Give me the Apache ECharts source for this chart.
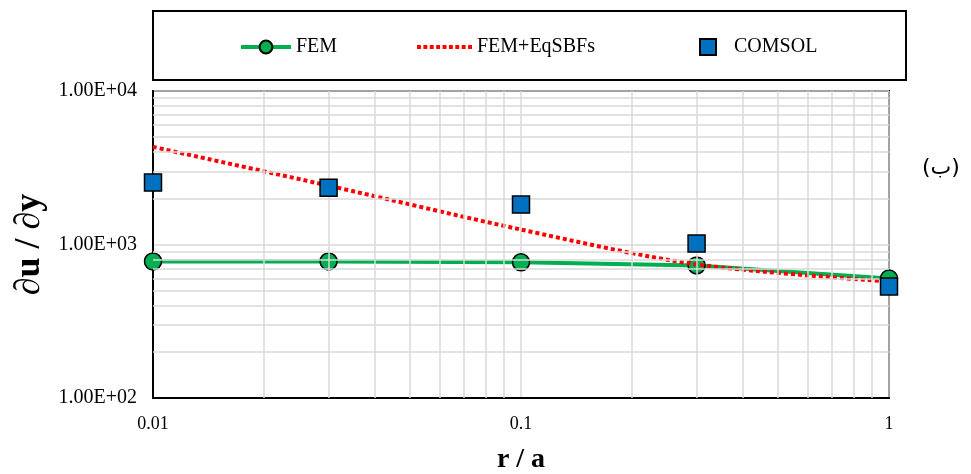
<!DOCTYPE html>
<html>
<head>
<meta charset="utf-8">
<script src="https://cdn.jsdelivr.net/npm/echarts@6/dist/echarts.min.js"></script>
<style>
  html, body { margin: 0; padding: 0; background: #fff; }
  #chart { width: 971px; height: 474px; }
</style>
</head>
<body>
<div id="chart"></div>
<script>
// r / a positions
const ratios = [0.01, 0.03, 0.1, 0.3, 1];
// du/dy values
const femValues = [776, 776, 765, 731, 601];
const eqsbfValues = [4325, 2417, 1251, 742, 575];
const comsolValues = [2530, 2344, 1819, 1015, 533];

// minor log gridlines
const xMinorGrid = [0.02, 0.03, 0.04, 0.05, 0.06, 0.07, 0.08, 0.09, 0.2, 0.3, 0.4, 0.5, 0.6, 0.7, 0.8, 0.9];
const yMinorGrid = [200, 300, 400, 500, 600, 700, 800, 900, 2000, 3000, 4000, 5000, 6000, 7000, 8000, 9000];

const serif = '"Liberation Serif", "Times New Roman", serif';
const green = '#00b050';
const blue = '#0070c0';
const red = '#ff0000';

// dotted legend sample: 9 small squares
const dottedIcon = 'path://M0,0h4v4h-4z M6.5,0h4v4h-4z M13,0h4v4h-4z M19.5,0h4v4h-4z M26,0h4v4h-4z ' +
  'M32.5,0h4v4h-4z M39,0h4v4h-4z M45.5,0h4v4h-4z M52,0h4v4h-4z';

function sciLabel(v) {
  const e = Math.round(Math.log10(v));
  const m = v / Math.pow(10, e);
  return m.toFixed(2) + 'E+' + String(e).padStart(2, '0');
}

function pairs(values) {
  return ratios.map((r, i) => [r, values[i]]);
}

const gridLine = { color: '#d9d9d9', width: 1.5, type: 'solid' };

const chart = echarts.init(document.getElementById('chart'), null, { renderer: 'canvas' });

const legendText = { fontFamily: serif, fontSize: 20, color: '#000' };

chart.setOption({
  animation: false,
  backgroundColor: '#fff',
  graphic: [
    {
      type: 'rect',
      shape: { x: 153, y: 11, width: 753, height: 69 },
      style: { fill: '#fff', stroke: '#000', lineWidth: 2 },
      z: 0
    },
    {
      type: 'text',
      left: 922,
      top: 157,
      style: { text: '(ب)', font: '22px "DejaVu Sans", sans-serif', fill: '#000' }
    }
  ],
  legend: [
    {
      data: ['FEM'],
      left: 234, top: 32,
      itemWidth: 50, itemHeight: 16,
      lineStyle: { width: 4, color: green },
      textStyle: Object.assign({ padding: [0, 0, 0, 0] }, legendText)
    },
    {
      data: [{ name: 'FEM+EqSBFs', icon: dottedIcon }],
      left: 412, top: 32,
      itemWidth: 55, itemHeight: 5,
      itemStyle: { color: red },
      textStyle: Object.assign({ padding: [0, 0, 0, 0] }, legendText)
    },
    {
      data: ['COMSOL'],
      left: 694, top: 32,
      itemWidth: 16, itemHeight: 16,
      textStyle: Object.assign({ padding: [0, 0, 0, 13] }, legendText)
    }
  ],
  grid: {
    left: 153, right: 82, top: 91, bottom: 76,
    outerBoundsMode: 'none',
    containLabel: false,
    show: true,
    borderColor: '#000',
    borderWidth: 2,
    backgroundColor: '#fff'
  },
  xAxis: {
    type: 'log',
    logBase: 10,
    min: 0.01,
    max: 1,
    name: 'r / a',
    nameLocation: 'middle',
    nameGap: 48,
    nameTextStyle: { fontFamily: serif, fontSize: 28, fontWeight: 'bold', color: '#000' },
    axisLine: { lineStyle: { color: '#000', width: 2 } },
    axisTick: { show: false },
    axisLabel: {
      fontFamily: serif, fontSize: 18, color: '#000', margin: 17,
      formatter: v => String(parseFloat(v.toPrecision(3)))
    },
    splitLine: { show: true, lineStyle: gridLine }
  },
  yAxis: {
    type: 'log',
    logBase: 10,
    min: 100,
    max: 10000,
    name: '∂u / ∂y',
    nameLocation: 'middle',
    nameRotate: 90,
    nameGap: 102,
    nameTextStyle: { fontFamily: serif, fontSize: 36, fontWeight: 'bold', color: '#000' },
    axisLine: { lineStyle: { color: '#000', width: 2 } },
    axisTick: { show: false },
    axisLabel: { fontFamily: serif, fontSize: 20, color: '#000', margin: 16, formatter: sciLabel },
    splitLine: { show: true, lineStyle: gridLine }
  },
  series: [
    {
      name: 'minor-grid',
      type: 'line',
      data: [],
      silent: true,
      z: 1,
      markLine: {
        silent: true,
        symbol: 'none',
        label: { show: false },
        lineStyle: gridLine,
        data: xMinorGrid.map(v => ({ xAxis: v })).concat(yMinorGrid.map(v => ({ yAxis: v })))
      }
    },
    {
      name: 'FEM',
      type: 'line',
      data: pairs(femValues),
      symbol: 'circle',
      symbolSize: 17,
      z: 3,
      lineStyle: { color: green, width: 4 },
      itemStyle: { color: green, borderColor: '#000', borderWidth: 1.5 }
    },
    {
      name: 'FEM+EqSBFs',
      type: 'line',
      data: pairs(eqsbfValues),
      smooth: 0.3,
      showSymbol: false,
      symbol: 'none',
      z: 4,
      lineStyle: { color: red, width: 4, type: [4, 3] },
      itemStyle: { color: red }
    },
    {
      name: 'COMSOL',
      type: 'scatter',
      data: pairs(comsolValues),
      symbol: 'rect',
      symbolSize: 17,
      z: 5,
      itemStyle: { color: blue, borderColor: '#000', borderWidth: 1.5, opacity: 1 }
    }
  ]
});
</script>
</body>
</html>
